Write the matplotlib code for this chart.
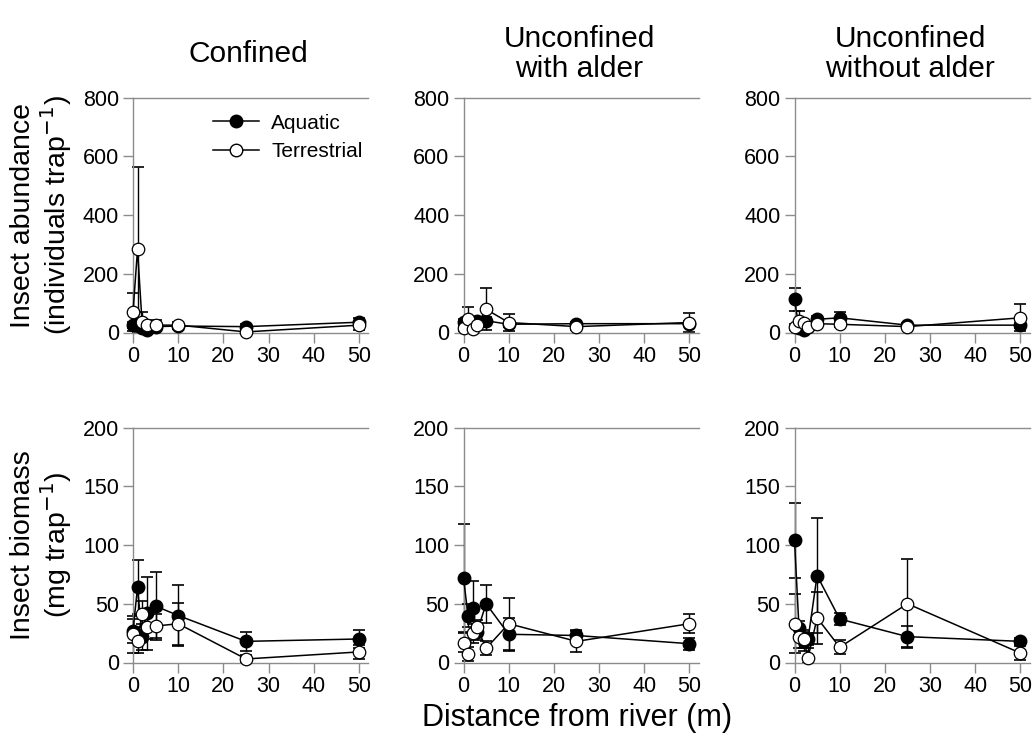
import numpy as np
import matplotlib
matplotlib.use("Agg")
import matplotlib.pyplot as plt
from matplotlib.lines import Line2D

plt.rcParams['font.family'] = ['Liberation Sans', 'DejaVu Sans']

# distance from river (m) for every sampling position
distance = [0, 1, 2, 3, 5, 10, 25, 50]

sites = ["Confined", "Unconfined\nwith alder", "Unconfined\nwithout alder"]

# insect abundance (individuals per trap), mean and error
abund_aq = [
    [25, 30, 15, 10, 20, 22, 20, 35],
    [35, 38, 35, 40, 40, 28, 30, 30],
    [113, 15, 10, 20, 45, 50, 25, 25],
]
abund_aq_err = [
    [10, 10, 8, 6, 8, 8, 8, 14],
    [10, 10, 8, 8, 12, 8, 6, 8],
    [39, 8, 6, 8, 10, 20, 6, 8],
]
abund_te = [
    [69, 283, 35, 25, 25, 25, 2, 25],
    [17, 47, 11, 26, 79, 34, 20, 34],
    [19, 38, 33, 20, 30, 28, 20, 50],
]
abund_te_err = [
    [65, 282, 34, 15, 18, 12, 3, 15],
    [12, 41, 8, 12, 71, 28, 10, 32],
    [10, 35, 10, 8, 10, 8, 8, 46],
]

# insect biomass (mg per trap), mean and error
bio_aq = [
    [27, 64, 22, 42, 48, 40, 18, 20],
    [72, 40, 46, 26, 50, 24, 23, 16],
    [104, 29, 18, 20, 74, 37, 22, 18],
]
bio_aq_err = [
    [10, 23, 11, 31, 29, 26, 8, 8],
    [46, 10, 23, 7, 16, 14, 5, 5],
    [32, 6, 8, 5, 49, 5, 9, 3],
]
bio_te = [
    [24, 18, 41, 30, 31, 33, 3, 9],
    [17, 7, 25, 30, 12, 33, 18, 33],
    [33, 22, 20, 4, 38, 13, 50, 8],
]
bio_te_err = [
    [16, 10, 11, 10, 10, 18, 3, 6],
    [8, 6, 8, 6, 6, 22, 9, 8],
    [25, 10, 8, 8, 22, 6, 38, 6],
]

W, H = 1036, 744
fig = plt.figure(figsize=(W / 100, H / 100), dpi=100)

col_left = [133, 463.5, 794.5]
row_top = [97.5, 427.5]
size = 235

grey = '#8c8c8c'
MS = 9


def draw(ax, y_aq, e_aq, y_te, e_te):
    for y, e in [(y_aq, e_aq), (y_te, e_te)]:
        y = np.asarray(y, float)
        e = np.asarray(e, float)
        # lower whisker stops at the x axis
        yerr = [np.minimum(e, y), e]
        bars = ax.errorbar(distance, y, yerr=yerr, fmt='none', ecolor='black',
                           elinewidth=1.0, capsize=4, capthick=1.2, zorder=2)
        for art in bars.lines[1] + bars.lines[2]:
            art.set_clip_on(False)
    ax.plot(distance, y_aq, '-o', color='black', lw=1.1, ms=MS,
            mfc='black', mec='black', zorder=3, clip_on=False)
    ax.plot(distance, y_te, '-o', color='black', lw=1.1, ms=MS,
            mfc='white', mec='black', mew=0.9, zorder=4, clip_on=False)


def style(ax, ymax, ystep):
    ax.set_xlim(0, 52)
    ax.set_ylim(0, ymax)
    ax.set_xticks(range(0, 51, 10))
    ax.set_yticks(np.arange(0, ymax + 1, ystep))
    ax.spines['right'].set_visible(False)
    for s in ['left', 'top', 'bottom']:
        ax.spines[s].set_color(grey)
        ax.spines[s].set_linewidth(1.0)
    ax.tick_params(direction='out', length=7, width=1.0, color=grey,
                   labelsize=15.5, pad=3)


for j in range(3):
    for i, (ya, ea, yt, et, ymax, ystep) in enumerate([
            (abund_aq, abund_aq_err, abund_te, abund_te_err, 800, 200),
            (bio_aq, bio_aq_err, bio_te, bio_te_err, 200, 50)]):
        left = col_left[j] / W
        bottom = 1 - (row_top[i] + size) / H
        ax = fig.add_axes([left, bottom, size / W, size / H])
        draw(ax, ya[j], ea[j], yt[j], et[j])
        style(ax, ymax, ystep)
        if i == 0 and j == 0:
            handles = [
                Line2D([], [], color='black', lw=1.1, marker='o', ms=MS,
                       mfc='black', mec='black'),
                Line2D([], [], color='black', lw=1.1, marker='o', ms=MS,
                       mfc='white', mec='black'),
            ]
            ax.legend(handles, ['Aquatic', 'Terrestrial'], loc='upper right',
                      frameon=False, fontsize=15, handlelength=2.2,
                      handletextpad=0.6, borderaxespad=0.2, labelspacing=0.45,
                      bbox_to_anchor=(1.03, 0.985))
    fig.text((col_left[j] + size / 2 - 2) / W, 1 - 54 / H, sites[j],
             ha='center', va='center', fontsize=21.5, linespacing=1.12)

fig.text(42 / W, 1 - 215 / H, "Insect abundance\n(individuals trap$^{-1}$)",
         rotation=90, ha='center', va='center', fontsize=20.5, linespacing=1.1)
fig.text(42 / W, 1 - 545 / H, "Insect biomass\n(mg trap$^{-1}$)",
         rotation=90, ha='center', va='center', fontsize=20.5, linespacing=1.1)
fig.text(577 / W, 1 - 718 / H, "Distance from river (m)",
         ha='center', va='center', fontsize=22)

fig.savefig("out.png", dpi=100)
